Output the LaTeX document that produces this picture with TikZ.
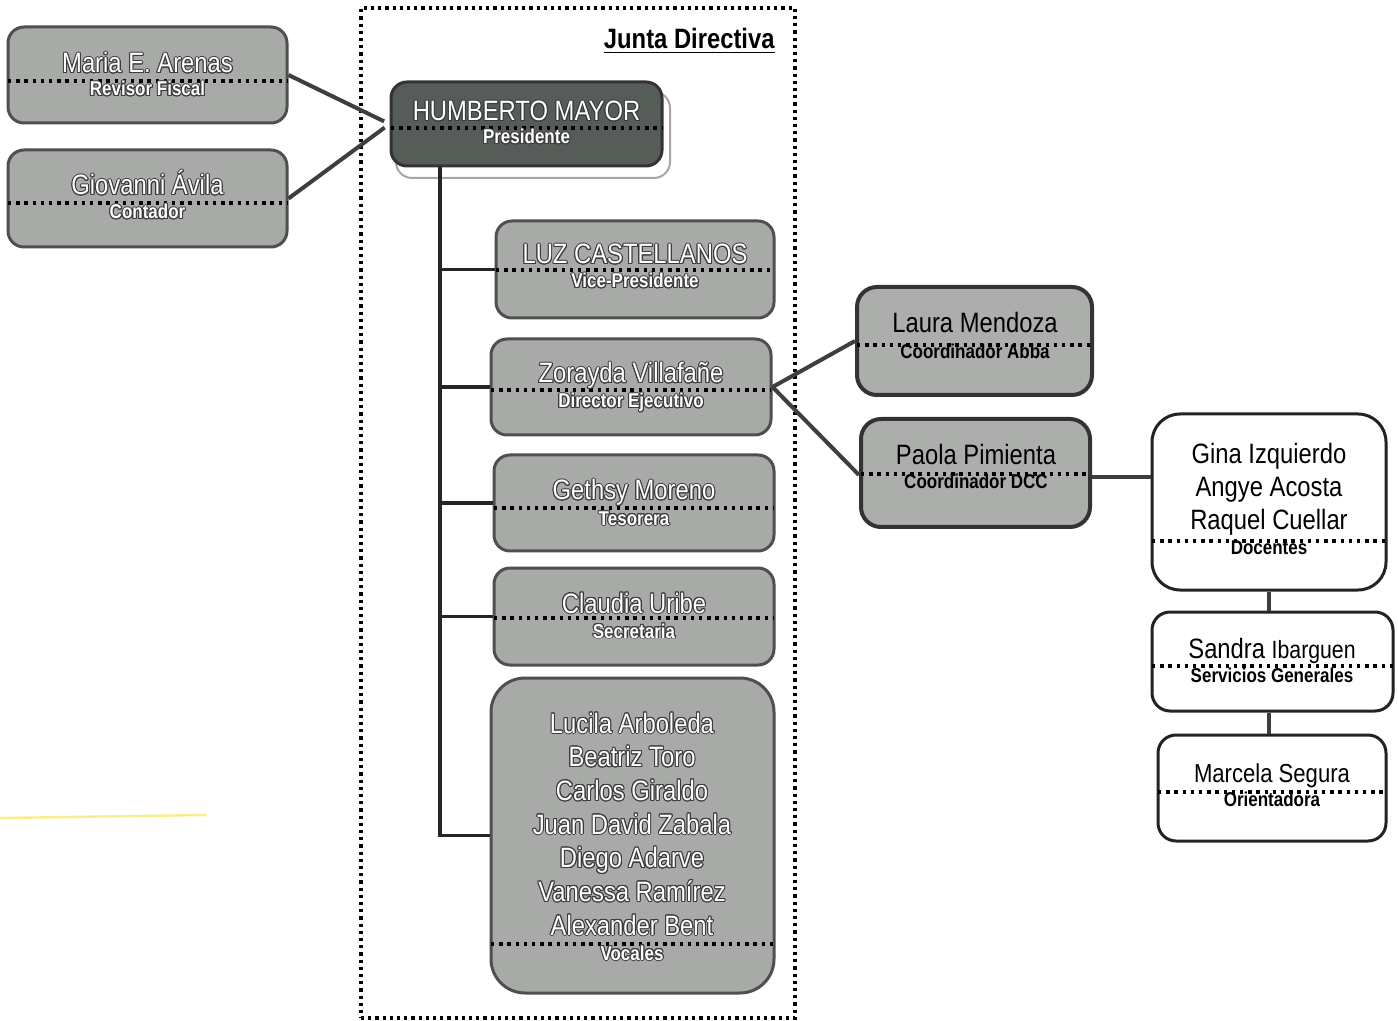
\documentclass[tikz,border=0pt]{standalone}
\usepackage{fontspec}
\setmainfont{Liberation Sans}[FakeStretch=0.85]
\usepackage{contour}
\contourlength{0.5pt}
\usetikzlibrary{fit}
\definecolor{boxgray}{RGB}{168,170,168}
\definecolor{boxedge}{RGB}{78,80,78}
\definecolor{presfill}{RGB}{86,92,88}
\definecolor{connc}{RGB}{62,62,62}
\definecolor{txtedge}{RGB}{60,60,60}
\definecolor{wedge}{RGB}{35,35,35}
\newcommand\wt[1]{{\color{white}\contour{txtedge}{#1}}}
\begin{document}
\begin{tikzpicture}[x=0.5pt,y=-0.5pt,
  gbox/.style={draw=boxedge, line width=1.5pt, fill=boxgray, rounded corners=8pt, inner sep=0pt},
  wbox/.style={draw=wedge, line width=1.5pt, fill=white, rounded corners=9pt, inner sep=0pt},
  sepline/.style={line width=1.8pt, dash pattern=on 1.7pt off 2.4pt},
  nm/.style={anchor=base, inner sep=0pt, font=\fontsize{14}{16}\selectfont},
  rl/.style={anchor=base, inner sep=0pt, font=\fontsize{10}{12}\selectfont\bfseries},
  conn/.style={draw=connc, line width=2pt},
  trunkline/.style={draw=black!85, line width=1.8pt},
  frame/.style={draw=black, line width=1.7pt, dash pattern=on 1.6pt off 2pt, inner sep=0pt}
]
\useasboundingbox (0,0) rectangle (1398,1021);
\fill[white] (0,0) rectangle (1398,1021);

% faint yellow stroke
\draw[draw={rgb,255:red,250;green,238;blue,140}, line width=1.2pt] (0,818) -- (207,815);

% Junta Directiva frame
\node[frame, fit={(361,8) (795,1018)}] (junta) {};
\node[anchor=base east, inner sep=0pt, font=\fontsize{14}{16}\selectfont\bfseries] (junta-t) at (775,49) {\underline{Junta Directiva}};

% left boxes
\node[gbox, fit={(8,27) (287,123)}] (maria) {};
\draw[sepline] (8,81) -- (287,81);
\node[nm] (maria-n) at (147.5,73) {\wt{Maria E. Arenas}};
\node[rl] (maria-r) at (147.5,96) {\wt{Revisor Fiscal}};

\node[gbox, fit={(8,150) (287,247)}] (giov) {};
\draw[sepline] (8,203) -- (287,203);
\node[nm] (giov-n) at (147.5,195) {\wt{Giovanni Ávila}};
\node[rl] (giov-r) at (147.5,219) {\wt{Contador}};

% president
\draw[draw=black!35, line width=1pt, fill=white, rounded corners=8pt] (396,92) rectangle (670,178);
\node[draw=black!80, line width=1.5pt, fill=presfill, rounded corners=8pt, inner sep=0pt, fit={(391,82) (662,166)}] (pres) {};
\draw[sepline, draw=black] (391,128) -- (662,128);
\node[nm] (pres-n) at (526.5,121) {\wt{HUMBERTO MAYOR}};
\node[rl] (pres-r) at (526.5,144) {\wt{Presidente}};

\draw[conn, shorten >=3pt] (maria.east) -- (pres.west);
\draw[conn, shorten >=3pt] (giov.east) -- (pres.west);

% board members
\node[gbox, fit={(496,221) (774,318)}] (luz) {};
\draw[sepline] (496,270) -- (774,270);
\node[nm] (luz-n) at (635,264) {\wt{LUZ CASTELLANOS}};
\node[rl] (luz-r) at (635,288) {\wt{Vice-Presidente}};

\node[gbox, fit={(491,339) (771,435)}] (zor) {};
\draw[sepline] (491,390) -- (771,390);
\node[nm] (zor-n) at (631,383) {\wt{Zorayda Villafañe}};
\node[rl] (zor-r) at (631,408) {\wt{Director Ejecutivo}};

\node[gbox, fit={(494,455) (774,551)}] (geth) {};
\draw[sepline] (494,508) -- (774,508);
\node[nm] (geth-n) at (634,500) {\wt{Gethsy Moreno}};
\node[rl] (geth-r) at (634,525) {\wt{Tesorera}};

\node[gbox, fit={(494,568) (774,665)}] (clau) {};
\draw[sepline] (494,618) -- (774,618);
\node[nm] (clau-n) at (634,613) {\wt{Claudia Uribe}};
\node[rl] (clau-r) at (634,638) {\wt{Secretaria}};

\node[gbox, rounded corners=17pt, fit={(491,678) (774,993)}] (voc) {};
\draw[sepline] (491,944) -- (774,944);
\foreach \t [count=\i] in {Lucila Arboleda, Beatriz Toro, Carlos Giraldo, Juan David Zabala, Diego Adarve, Vanessa Ramírez, Alexander Bent}
  \node[nm] (voc-n\i) at (632,{733+33.67*(\i-1)}) {\wt{\t}};
\node[rl] (voc-r) at (632,960) {\wt{Vocales}};

% trunk
\coordinate (trunk) at (pres.south -| 440,0);
\draw[trunkline] (trunk) |- (voc.west);
\foreach \b in {luz,zor,geth,clau}
  \draw[trunkline] (trunk |- \b.west) -- (\b.west);

% coordinators
\node[gbox, draw=black!80, line width=2pt, fill=boxgray!95!white, rounded corners=10pt, fit={(857,287) (1092,395)}] (laura) {};
\draw[sepline] (857,345) -- (1092,345);
\node[nm] (laura-n) at (975,333) {Laura Mendoza};
\node[rl] (laura-r) at (975,359) {Coordinador Abba};

\node[gbox, draw=black!80, line width=2pt, fill=boxgray!95!white, rounded corners=10pt, fit={(861,419) (1090,527)}] (paola) {};
\draw[sepline] (861,474) -- (1090,474);
\node[nm] (paola-n) at (976,465) {Paola Pimienta};
\node[rl] (paola-r) at (976,489) {Coordinador DCC};

\draw[conn] (zor.east) -- (laura.west);
\draw[conn] (zor.east) -- ([yshift=-1pt]paola.west);

% staff
\node[wbox, rounded corners=14pt, fit={(1152,414) (1386,590)}] (gina) {};
\draw[sepline] (1152,541) -- (1386,541);
\node[nm] (gina-n1) at (1269,464) {Gina Izquierdo};
\node[nm] (gina-n2) at (1269,497) {Angye Acosta};
\node[nm] (gina-n3) at (1269,530) {Raquel Cuellar};
\node[rl] (gina-r) at (1269,554) {Docentes};

\node[wbox, fit={(1152,612) (1393,711)}] (sandra) {};
\draw[sepline] (1152,666) -- (1393,666);
\node[nm] (sandra-n) at (1272,658) {Sandra {\fontsize{12.5}{14}\selectfont Ibarguen}};
\node[rl] (sandra-r) at (1272,682) {Servicios Generales};

\node[wbox, fit={(1158,735) (1386,841)}] (marc) {};
\draw[sepline] (1158,792) -- (1386,792);
\node[nm, font=\fontsize{13}{15}\selectfont] (marc-n) at (1272,782) {Marcela Segura};
\node[rl] (marc-r) at (1272,806) {Orientadora};

\draw[conn] ([yshift=-2pt]paola.east) -- ([yshift=-2pt]paola.east -| gina.west);
\draw[conn] (gina.south) -- (gina.south |- sandra.north);
\draw[conn] (gina.south |- sandra.south) -- (gina.south |- marc.north);
\end{tikzpicture}
\end{document}
